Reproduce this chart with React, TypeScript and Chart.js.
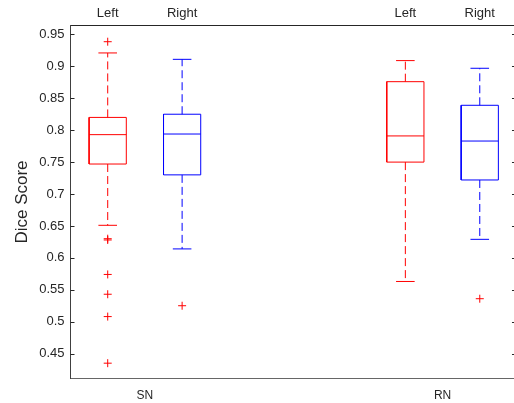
import { useEffect, useRef } from 'react';
import { Chart, registerables } from 'chart.js';

Chart.register(...registerables);

const FONT = '"Liberation Sans", Arial, Helvetica, sans-serif';
const TEXT = '#262626';

// Groups (bottom labels) and boxes (top labels)
const groupLabels = ['SN', 'RN'];
const groupPositions = [1.5, 5.5];
const boxLabels = ['Left', 'Right', 'Left', 'Right'];
const boxPositions = [1, 2, 5, 6];
const boxColors = ['#ff0000', '#0000ff', '#ff0000', '#0000ff'];

// Box statistics (Dice score)
const lowerWhisker = [0.651, 0.614, 0.563, 0.629];
const q1 = [0.747, 0.730, 0.750, 0.722];
const median = [0.793, 0.794, 0.791, 0.783];
const q3 = [0.820, 0.825, 0.876, 0.839];
const upperWhisker = [0.921, 0.911, 0.909, 0.897];
const outliersSNLeft = [0.9386, 0.630, 0.628, 0.574, 0.543, 0.508, 0.435];
const outliersSNRight = [0.525];
const outliersRNLeft: number[] = [];
const outliersRNRight = [0.536];
const outliers = [outliersSNLeft, outliersSNRight, outliersRNLeft, outliersRNRight];

// Y ticks
const yTickValues = [0.45, 0.5, 0.55, 0.6, 0.65, 0.7, 0.75, 0.8, 0.85, 0.9, 0.95];
const yTickLabels = ['0.45', '0.5', '0.55', '0.6', '0.65', '0.7', '0.75', '0.8', '0.85', '0.9', '0.95'];

// Axis ranges
const X_MIN = 0.5;
const X_MAX = 6.46;
const X_AXIS_END = 6.5;
const Y_MIN = 0.411;
const Y_MAX = 0.964;
const BOX_HALF = 0.25;
const CAP_HALF = 0.125;

function lineDs(points: { x: number; y: number }[], color: string, dash: number[] = []) {
  return {
    data: points,
    showLine: true,
    borderColor: color,
    backgroundColor: color,
    borderWidth: 1,
    borderDash: dash,
    pointRadius: 0,
    pointHoverRadius: 0,
    fill: false,
    tension: 0,
  };
}

function buildDatasets() {
  const ds: any[] = [];
  boxPositions.forEach((p, i) => {
    const c = boxColors[i];
    ds.push(lineDs([{ x: p, y: q3[i] }, { x: p, y: upperWhisker[i] }], c, [8, 4]));
    ds.push(lineDs([{ x: p, y: q1[i] }, { x: p, y: lowerWhisker[i] }], c, [8, 4]));
    ds.push(lineDs([{ x: p - CAP_HALF, y: upperWhisker[i] }, { x: p + CAP_HALF, y: upperWhisker[i] }], c));
    ds.push(lineDs([{ x: p - CAP_HALF, y: lowerWhisker[i] }, { x: p + CAP_HALF, y: lowerWhisker[i] }], c));
    ds.push(
      lineDs(
        [
          { x: p - BOX_HALF, y: q1[i] },
          { x: p + BOX_HALF, y: q1[i] },
          { x: p + BOX_HALF, y: q3[i] },
          { x: p - BOX_HALF, y: q3[i] },
          { x: p - BOX_HALF, y: q1[i] },
        ],
        c
      )
    );
    ds.push(lineDs([{ x: p - BOX_HALF, y: median[i] }, { x: p + BOX_HALF, y: median[i] }], c));
  });
  const pts: { x: number; y: number }[] = [];
  outliers.forEach((arr, i) => arr.forEach((v) => pts.push({ x: boxPositions[i], y: v })));
  ds.push({
    data: pts,
    showLine: false,
    pointStyle: 'cross',
    pointRadius: 4,
    pointHoverRadius: 4,
    borderColor: '#ff0000',
    backgroundColor: '#ff0000',
    borderWidth: 1,
  });
  return ds;
}

const inwardTicks = {
  id: 'inwardTicks',
  afterDraw(chart: any) {
    const { ctx, chartArea, scales } = chart;
    const x = scales.x;
    const y = scales.y;
    const leftX = chartArea.left;
    const rightX = x.getPixelForValue(X_AXIS_END);
    ctx.save();
    ctx.strokeStyle = TEXT;
    ctx.lineWidth = 1;
    yTickValues.forEach((v) => {
      const py = Math.round(y.getPixelForValue(v)) + 0.5;
      ctx.beginPath();
      ctx.moveTo(leftX, py);
      ctx.lineTo(leftX + 4, py);
      ctx.moveTo(rightX - 5, py);
      ctx.lineTo(rightX, py);
      ctx.stroke();
    });
    ctx.restore();
  },
};

function zeroPad(s: any) {
  s.paddingLeft = 0;
  s.paddingRight = 0;
  s.paddingTop = 0;
  s.paddingBottom = 0;
}

export default function App() {
  const ref = useRef<HTMLCanvasElement | null>(null);

  useEffect(() => {
    if (!ref.current) return;
    const chart = new Chart(ref.current, {
      type: 'scatter',
      data: { datasets: buildDatasets() },
      plugins: [inwardTicks],
      options: {
        responsive: false,
        animation: false,
        devicePixelRatio: 1,
        layout: { padding: 0, autoPadding: false },
        plugins: { legend: { display: false }, tooltip: { enabled: false } },
        events: [],
        scales: {
          x: {
            type: 'linear',
            position: 'bottom',
            min: X_MIN,
            max: X_MAX,
            grid: { display: false, drawTicks: false, tickLength: 0 },
            border: { display: true, color: '#666666', width: 1 },
            afterBuildTicks: (s: any) => {
              s.ticks = groupPositions.map((v) => ({ value: v }));
            },
            ticks: {
              autoSkip: false,
              maxRotation: 0,
              padding: 9.5,
              color: TEXT,
              font: { family: FONT, size: 12 },
              callback: (v: any) => {
                const i = groupPositions.indexOf(Number(v));
                return i >= 0 ? groupLabels[i] : '';
              },
            },
            afterFit: (s: any) => {
              s.height = 24.5;
              zeroPad(s);
            },
          },
          xTop: {
            type: 'linear',
            position: 'top',
            min: X_MIN,
            max: X_MAX,
            grid: { display: false, drawTicks: false, tickLength: 0 },
            border: { display: true, color: TEXT, width: 1 },
            afterBuildTicks: (s: any) => {
              s.ticks = boxPositions.map((v) => ({ value: v }));
            },
            ticks: {
              autoSkip: false,
              maxRotation: 0,
              padding: 4,
              color: TEXT,
              font: { family: FONT, size: 13 },
              callback: (v: any) => {
                const i = boxPositions.indexOf(Number(v));
                return i >= 0 ? boxLabels[i] : '';
              },
            },
            afterFit: (s: any) => {
              s.height = 25.5;
              zeroPad(s);
            },
          },
          y: {
            type: 'linear',
            position: 'left',
            min: Y_MIN,
            max: Y_MAX,
            grid: { display: false, drawTicks: false, tickLength: 0 },
            border: { display: true, color: '#404040', width: 1 },
            afterBuildTicks: (s: any) => {
              s.ticks = yTickValues.map((v) => ({ value: v }));
            },
            ticks: {
              autoSkip: false,
              padding: 6,
              color: TEXT,
              font: { family: FONT, size: 13 },
              callback: (v: any) => {
                const i = yTickValues.findIndex((t) => Math.abs(t - Number(v)) < 1e-9);
                return i >= 0 ? yTickLabels[i] : '';
              },
            },
            title: {
              display: true,
              text: 'Dice Score',
              color: TEXT,
              font: { family: FONT, size: 17 },
              padding: { top: 12, bottom: 0 },
            },
            afterFit: (s: any) => {
              s.width = 70.5;
              zeroPad(s);
            },
          },
        },
      } as any,
    });
    return () => chart.destroy();
  }, []);

  return (
    <div style={{ position: 'absolute', left: 0, top: 0, width: 514, height: 403, background: '#fff' }}>
      <canvas ref={ref} width={514} height={403} style={{ display: 'block', width: 514, height: 403 }} />
    </div>
  );
}
